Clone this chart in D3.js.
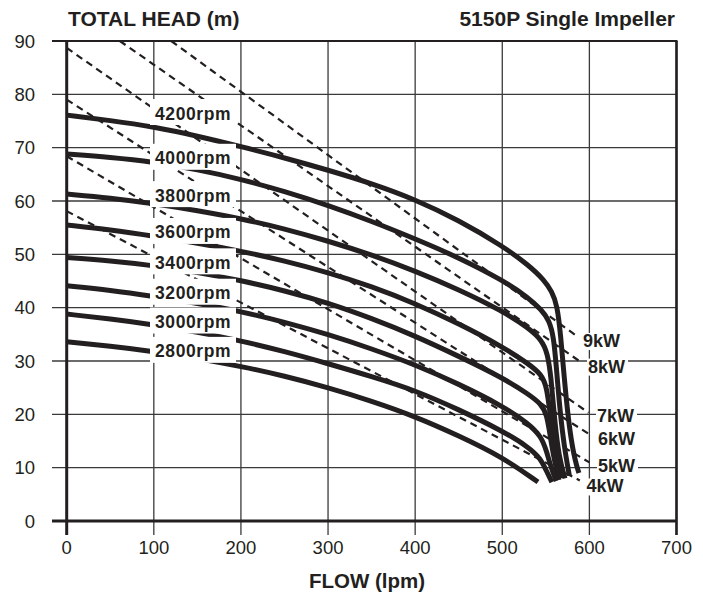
<!doctype html>
<html>
<head>
<title>5150P Single Impeller</title>
<script src="https://cdn.jsdelivr.net/npm/d3@7"></script>
<style>
  body { margin: 0; background: #fff; }
  text { font-family: "Liberation Sans", Arial, sans-serif; fill: #231f20; }
</style>
</head>
<body>
<script>
// axis ticks
const flowTicks = [0, 100, 200, 300, 400, 500, 600, 700];
const headTicks = [0, 10, 20, 30, 40, 50, 60, 70, 80, 90];

// pump curves, [flow lpm, head m]
const rpmNames = ["4200rpm", "4000rpm", "3800rpm", "3600rpm", "3400rpm", "3200rpm", "3000rpm", "2800rpm"];
const rpm4200 = [[0,76.1],[50,75.1],[100,73.9],[150,72.2],[200,70.2],[250,68.1],[300,65.8],[350,63.3],[400,60.3],[450,56.4],[500,51.6],[530,48],[548,45.2],[557,43],[563,40.5],[567,35],[572,25],[578,16],[584,11],[588,9]];
const rpm4000 = [[0,68.8],[50,68.2],[100,67.3],[150,65.9],[200,64.1],[250,61.8],[300,59.2],[350,56.2],[400,52.9],[450,49.4],[500,45.2],[530,41.9],[545,39.6],[554,37.6],[559,34.5],[562,29],[566,21],[571,14],[577,8.5]];
const rpm3800 = [[0,61.3],[50,60.6],[100,59.5],[150,58.2],[200,56.7],[250,54.8],[300,52.5],[350,49.9],[400,46.9],[450,43.4],[500,39.4],[530,36.2],[545,34],[552,31.5],[556,27],[560,19],[565,12],[572,8]];
const rpm3600 = [[0,55.5],[50,54.6],[100,53.4],[150,52.1],[200,50.6],[250,48.8],[300,46.6],[350,44],[400,40.8],[450,37],[500,32.7],[530,29.5],[545,27.5],[551,25.2],[555,20],[560,14],[568,8]];
const rpm3400 = [[0,49.4],[50,48.8],[100,47.9],[150,46.6],[200,45.1],[250,43.2],[300,40.9],[350,38],[400,34.7],[450,30.9],[500,26.9],[530,23.8],[545,21.9],[551,20],[555,16],[559,12],[565,7.7]];
const rpm3200 = [[0,44.1],[50,43.3],[100,42.1],[150,40.8],[200,39.3],[250,37.3],[300,35],[350,32.3],[400,29.3],[450,25.7],[500,21.6],[530,18.3],[545,15.8],[551,13],[556,10],[562,7.5]];
const rpm3000 = [[0,38.8],[50,37.9],[100,36.8],[150,35.4],[200,33.8],[250,31.8],[300,29.5],[350,27.1],[400,24.5],[450,20.9],[500,16.9],[530,13.9],[544,11.7],[550,9.6],[557,7.3]];
const rpm2800 = [[0,33.6],[50,32.8],[100,31.8],[150,30.5],[200,29],[250,27.2],[300,25],[350,22.5],[400,19.6],[450,16],[500,12],[541,7.3]];
const rpmCurves = [rpm4200, rpm4000, rpm3800, rpm3600, rpm3400, rpm3200, rpm3000, rpm2800];

// power lines (dashed), start and end [flow, head]
const kwNames = ["9kW", "8kW", "7kW", "6kW", "5kW", "4kW"];
const kwStart = [[120,90],[61,90],[0,88.7],[0,79],[0,68.4],[0,58.1]];
const kwEnd = [[587,34.5],[591,29.7],[599,20.3],[600,16.25],[600,11],[589,7.6]];

const w = 703, h = 605;
const svg = d3.select("body").append("svg")
  .attr("width", w)
  .attr("height", h);

const x = d3.scaleLinear().domain([0, 700]).range([66.7, 676.5]);
const y = d3.scaleLinear().domain([0, 90]).range([521, 41]);

const ink = "#231f20";

// grid
svg.append("g").selectAll("line")
  .data(headTicks)
  .join("line")
  .attr("x1", 52).attr("x2", x(700))
  .attr("y1", d => y(d)).attr("y2", d => y(d))
  .attr("stroke", "#3a3a3a").attr("stroke-width", 1.3);

svg.append("g").selectAll("line")
  .data(flowTicks)
  .join("line")
  .attr("x1", d => x(d)).attr("x2", d => x(d))
  .attr("y1", y(90)).attr("y2", 535)
  .attr("stroke", "#3a3a3a").attr("stroke-width", 1.3);

// dashed power lines
svg.append("g").selectAll("line")
  .data(kwNames)
  .join("line")
  .attr("x1", (d, i) => x(kwStart[i][0])).attr("y1", (d, i) => y(kwStart[i][1]))
  .attr("x2", (d, i) => x(kwEnd[i][0])).attr("y2", (d, i) => y(kwEnd[i][1]))
  .attr("stroke", ink).attr("stroke-width", 2.2)
  .attr("stroke-dasharray", "7,5");

// pump curves
const line = d3.line()
  .x(d => x(d[0]))
  .y(d => y(d[1]))
  .curve(d3.curveBasis);

svg.append("g").selectAll("path")
  .data(rpmCurves)
  .join("path")
  .attr("d", line)
  .attr("fill", "none")
  .attr("stroke", ink)
  .attr("stroke-width", 5);

// rpm labels with white knockout
const rpmLabelHead = [76.5, 68.1, 61.1, 54.2, 48.5, 42.8, 37.4, 31.9];
const rl = svg.append("g").selectAll("g")
  .data(rpmNames)
  .join("g")
  .attr("transform", (d, i) => `translate(0,${y(rpmLabelHead[i])})`);
rl.append("rect")
  .attr("x", 150).attr("y", -14)
  .attr("width", 86).attr("height", 26)
  .attr("fill", "#fff");
rl.append("text")
  .attr("x", 155).attr("y", 6.5)
  .attr("font-size", 17.5).attr("font-weight", "bold")
  .attr("letter-spacing", 0.6)
  .text(d => d);

// kW labels
const kwLabelOffset = [[5, 10], [6.5, 10], [8.5, 9], [8.6, 10.2], [8.6, 9.2], [6.7, 12]];
const kl = svg.append("g").selectAll("g")
  .data(kwNames)
  .join("g")
  .attr("transform", (d, i) => `translate(${x(kwEnd[i][0]) + kwLabelOffset[i][0]},${y(kwEnd[i][1]) + kwLabelOffset[i][1]})`);
kl.append("rect")
  .attr("x", -1).attr("y", -14)
  .attr("width", 41).attr("height", 17)
  .attr("fill", "#fff");
kl.append("text")
  .attr("x", 0).attr("y", 0)
  .attr("font-size", 18).attr("font-weight", "bold")
  .text(d => d);

// frame / axes
svg.append("line")
  .attr("x1", 52).attr("x2", x(700))
  .attr("y1", y(0)).attr("y2", y(0))
  .attr("stroke", ink).attr("stroke-width", 3);
svg.append("line")
  .attr("x1", x(0)).attr("x2", x(0))
  .attr("y1", y(90)).attr("y2", 535)
  .attr("stroke", ink).attr("stroke-width", 3);
svg.append("line")
  .attr("x1", 52).attr("x2", x(700) + 1)
  .attr("y1", y(90)).attr("y2", y(90))
  .attr("stroke", ink).attr("stroke-width", 2.2);
svg.append("line")
  .attr("x1", x(700)).attr("x2", x(700))
  .attr("y1", y(90)).attr("y2", 535)
  .attr("stroke", ink).attr("stroke-width", 2.6);

// tick labels
svg.append("g").selectAll("text")
  .data(headTicks)
  .join("text")
  .attr("x", 35).attr("y", d => y(d) + 6.5)
  .attr("text-anchor", "end")
  .attr("font-size", 18.5)
  .text(d => d);

svg.append("g").selectAll("text")
  .data(flowTicks)
  .join("text")
  .attr("x", d => x(d)).attr("y", 554)
  .attr("text-anchor", "middle")
  .attr("font-size", 18.5)
  .text(d => d);

// titles
svg.append("text")
  .attr("x", 68).attr("y", 26)
  .attr("font-size", 21).attr("font-weight", "bold")
  .text("TOTAL HEAD (m)");
svg.append("text")
  .attr("x", 675).attr("y", 26)
  .attr("text-anchor", "end")
  .attr("font-size", 21).attr("font-weight", "bold")
  .text("5150P Single Impeller");
svg.append("text")
  .attr("x", 367).attr("y", 588)
  .attr("text-anchor", "middle")
  .attr("font-size", 20.5).attr("font-weight", "bold")
  .text("FLOW (lpm)");
</script>
</body>
</html>
